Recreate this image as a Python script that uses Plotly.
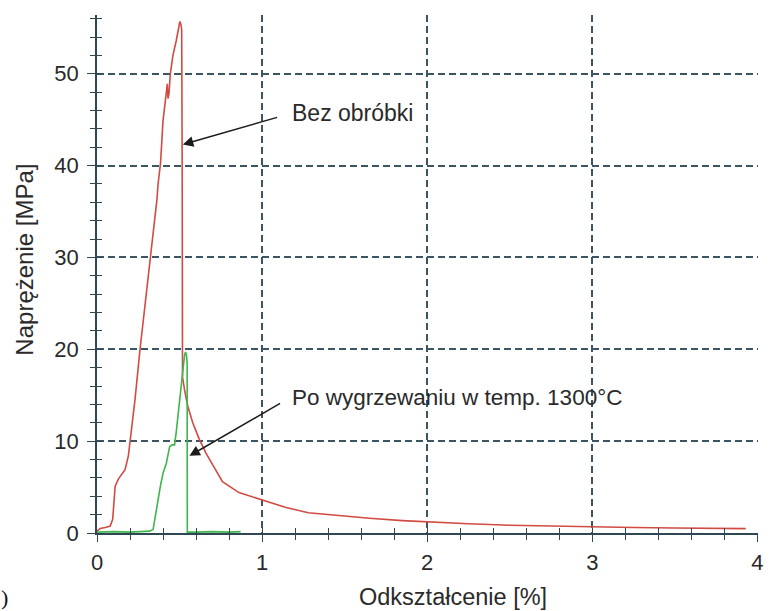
import plotly.graph_objects as go

# Red curve: "Bez obróbki"
red_strain = [0.0, 0.02, 0.05, 0.08, 0.095, 0.11, 0.13, 0.15, 0.17, 0.19, 0.20, 0.23, 0.26, 0.296,
              0.33, 0.363, 0.37, 0.385, 0.40, 0.415, 0.42, 0.426, 0.43, 0.436, 0.444, 0.46, 0.48,
              0.495, 0.502, 0.508, 0.513, 0.516, 0.518, 0.53, 0.55, 0.58, 0.62, 0.66, 0.71, 0.76,
              0.86, 1.0, 1.14, 1.28, 1.45, 1.65, 1.85, 2.0, 2.25, 2.5, 2.75, 3.0, 3.25, 3.5,
              3.75, 3.93]
red_stress = [0.2, 0.5, 0.6, 0.75, 1.5, 5.1, 5.9, 6.4, 6.9, 8.4, 9.8, 14.5, 19.9, 25.4,
              31.0, 36.3, 38.0, 40.3, 44.9, 47.5, 48.6, 48.9, 47.3, 47.8, 50.0, 52.0, 53.6,
              55.2, 55.7, 55.4, 54.8, 40.0, 17.0, 15.6, 13.8, 12.0, 10.2, 8.7, 7.1, 5.6,
              4.4, 3.6, 2.8, 2.2, 1.9, 1.6, 1.35, 1.2, 1.0, 0.85, 0.75, 0.7, 0.6, 0.55,
              0.5, 0.48]

# Green curve: "Po wygrzewaniu w temp. 1300°C"
green_strain = [0.0, 0.1, 0.2, 0.3, 0.32, 0.34, 0.355, 0.37, 0.385, 0.40, 0.42, 0.44, 0.455,
                0.47, 0.48, 0.49, 0.51, 0.53, 0.536, 0.542, 0.546, 0.547, 0.6, 0.7, 0.8, 0.87]
green_stress = [0.1, 0.15, 0.1, 0.15, 0.2, 0.4, 1.8, 3.6, 5.2, 6.5, 7.6, 9.4, 9.6,
                9.6, 11.0, 12.7, 16.3, 19.3, 19.7, 19.4, 18.5, 0.1, 0.1, 0.15, 0.1, 0.15]

x_ticks = [0, 1, 2, 3, 4]
y_ticks = [0, 10, 20, 30, 40, 50]

x_title = "Odkształcenie [%]"
y_title = "Naprężenie [MPa]"
label_red = "Bez obróbki"
label_green = "Po wygrzewaniu w temp. 1300°C"

AX = "#2e4753"
GRID = "#3b5563"
TXT = "#2a2a2a"
FONT = "Liberation Sans, Arial, sans-serif"
XR = [0, 4.004]
YR = [0, 56.4]

fig = go.Figure()
fig.add_trace(go.Scatter(x=red_strain, y=red_stress, mode="lines",
                         line=dict(color="#d24b43", width=1.6), showlegend=False))
fig.add_trace(go.Scatter(x=green_strain, y=green_stress, mode="lines",
                         line=dict(color="#3fb54c", width=1.6), showlegend=False))
# dummy trace for the overlay axes (inner halves of the crossing ticks)
fig.add_trace(go.Scatter(x=[None], y=[None], xaxis="x2", yaxis="y2", showlegend=False,
                         hoverinfo="skip"))

common_font = dict(family=FONT, size=22, color=TXT)

fig.update_layout(
    width=772, height=611,
    margin=dict(l=97, r=9, t=15, b=78),
    paper_bgcolor="white", plot_bgcolor="white",
    font=common_font,
    xaxis=dict(range=XR, tickvals=x_ticks, showgrid=True, gridcolor=GRID, gridwidth=1.5,
               griddash="7px,4px", zeroline=False, showline=True, linecolor=AX, linewidth=1.6,
               ticks="outside", ticklen=7, tickwidth=1.4, tickcolor=AX,
               minor=dict(dtick=0.2, ticks="outside", ticklen=5, tickwidth=1.4, tickcolor=AX,
                          showgrid=False),
               tickfont=common_font, ticklabelstandoff=2),
    yaxis=dict(range=YR, tickvals=y_ticks, showgrid=True, gridcolor=GRID, gridwidth=1.5,
               griddash="7px,4px", zeroline=False, showline=True, linecolor=AX, linewidth=1.6,
               ticks="outside", ticklen=8, tickwidth=1.4, tickcolor=AX,
               minor=dict(dtick=2, ticks="outside", ticklen=5, tickwidth=1.4, tickcolor=AX,
                          showgrid=False),
               tickfont=common_font, ticklabelstandoff=4),
    xaxis2=dict(range=XR, overlaying="x", anchor="y2", tickvals=x_ticks, showgrid=False,
                zeroline=False, showline=False, showticklabels=False,
                ticks="inside", ticklen=5, tickwidth=1.4, tickcolor=AX,
                minor=dict(dtick=0.2, ticks="inside", ticklen=5, tickwidth=1.4, tickcolor=AX)),
    yaxis2=dict(range=YR, overlaying="y", anchor="x2", tickvals=y_ticks, showgrid=False,
                zeroline=False, showline=False, showticklabels=False,
                ticks="inside", ticklen=5, tickwidth=1.4, tickcolor=AX,
                minor=dict(dtick=2, ticks="inside", ticklen=5, tickwidth=1.4, tickcolor=AX)),
)

# arrows
fig.add_annotation(x=0.52, y=42.3, ax=1.10, ay=45.3, xref="x", yref="y", axref="x", ayref="y",
                   text="", showarrow=True, arrowhead=2, arrowsize=1.4, arrowwidth=1.5,
                   arrowcolor="#1c1c1c")
fig.add_annotation(x=0.56, y=8.4, ax=1.118, ay=14.2, xref="x", yref="y", axref="x", ayref="y",
                   text="", showarrow=True, arrowhead=2, arrowsize=1.4, arrowwidth=1.5,
                   arrowcolor="#1c1c1c")
# labels
fig.add_annotation(x=1.172, y=45.7, xref="x", yref="y", text=label_red, showarrow=False,
                   xanchor="left", yanchor="middle",
                   font=dict(family=FONT, size=23, color=TXT))
fig.add_annotation(x=1.172, y=14.7, xref="x", yref="y", text=label_green, showarrow=False,
                   xanchor="left", yanchor="middle",
                   font=dict(family=FONT, size=22.5, color=TXT))
# axis titles
fig.add_annotation(x=0.539, y=-0.124, xref="paper", yref="paper", text=x_title,
                   showarrow=False, xanchor="center", yanchor="middle",
                   font=dict(family=FONT, size=23.5, color=TXT))
fig.add_annotation(x=-0.111, y=0.527, xref="paper", yref="paper", text=y_title,
                   showarrow=False, xanchor="center", yanchor="middle", textangle=-90,
                   font=dict(family=FONT, size=24, color=TXT))
fig.add_annotation(x=-0.1396, y=-0.125, xref="paper", yref="paper", text=")",
                   showarrow=False, xanchor="center", yanchor="middle",
                   font=dict(family="Liberation Serif, serif", size=22, color="#111"))

fig.write_html("out.html", config={"displayModeBar": False},
               post_script="document.body.style.margin='0';")
